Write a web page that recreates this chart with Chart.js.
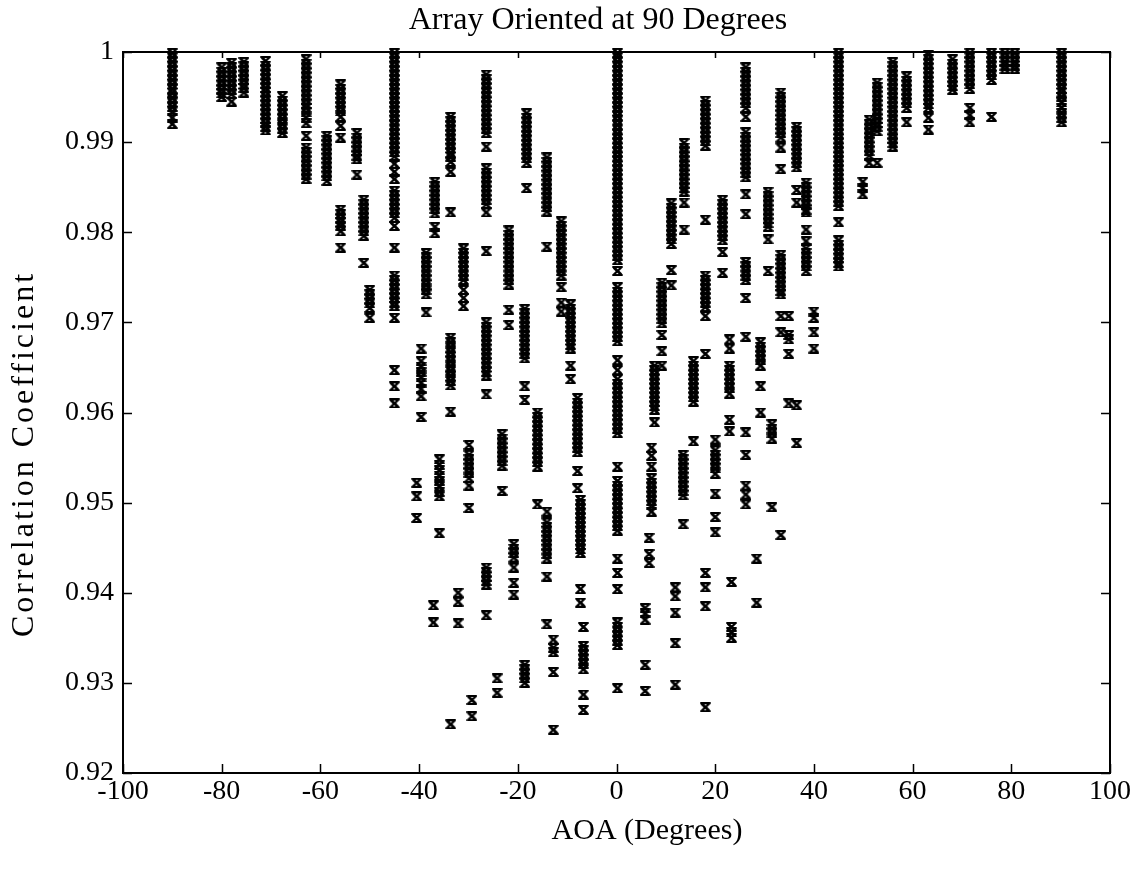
<!DOCTYPE html>
<html>
<head>
<meta charset="utf-8">
<title>Array Oriented at 90 Degrees</title>
<script src="https://cdn.jsdelivr.net/npm/chart.js@4.4.1/dist/chart.umd.min.js"></script>
<style>
  html, body { margin: 0; padding: 0; background: #fff; }
  canvas { display: block; }
</style>
</head>
<body>
<canvas id="chart" width="1143" height="880"></canvas>
<script>
// Axis ticks
const xTickValues = [-100, -80, -60, -40, -20, 0, 20, 40, 60, 80, 100];
const xTickLabels = ['-100', '-80', '-60', '-40', '-20', '0', '20', '40', '60', '80', '100'];
const yTickValues = [0.92, 0.93, 0.94, 0.95, 0.96, 0.97, 0.98, 0.99, 1];
const yTickLabels = ['0.92', '0.93', '0.94', '0.95', '0.96', '0.97', '0.98', '0.99', '1'];

// Correlation coefficients per angle of arrival (degrees), negative angles
const aoaLeft = [-90, -80, -78, -75.5, -71.1, -67.7, -62.9, -58.7, -55.9, -52.6, -51.2, -50.0,
  -45.0, -40.5, -39.6, -38.6, -37.1, -36.8, -35.9, -33.6, -32.1, -31.0, -29.9, -29.3,
  -26.4, -24.2, -23.2, -21.8, -20.8, -18.6, -18.2, -16.0, -14.1, -12.8, -11.2, -9.3,
  -7.9, -7.3, -6.7];
const rhoLeft = [
  [0.9999,0.9994,0.9989,0.9984,0.9979,0.9974,0.9969,0.9964,0.9959,0.9955,0.9949,0.9944,0.9939,0.9934,0.9927,0.9920],
  [0.9983,0.9978,0.9973,0.9968,0.9963,0.9958,0.9954,0.9950],
  [0.9988,0.9983,0.9978,0.9973,0.9968,0.9963,0.9958,0.9953,0.9945],
  [0.9989,0.9984,0.9979,0.9974,0.9969,0.9964,0.9960,0.9955],
  [0.9990,0.9985,0.9980,0.9975,0.9970,0.9965,0.9960,0.9956,0.9951,0.9946,0.9941,0.9936,0.9931,0.9926,0.9921,0.9917,0.9913],
  [0.9951,0.9946,0.9941,0.9936,0.9931,0.9926,0.9920,0.9915,0.9910],
  [0.9992,0.9987,0.9982,0.9977,0.9972,0.9967,0.9962,0.9957,0.9952,0.9947,0.9942,0.9938,0.9933,0.9927,0.9921,0.9907,0.9894,0.9889,0.9884,0.9879,0.9874,0.9869,0.9864,0.9859],
  [0.9907,0.9902,0.9897,0.9892,0.9887,0.9882,0.9877,0.9872,0.9867,0.9862,0.9857],
  [0.9964,0.9959,0.9954,0.9949,0.9944,0.9939,0.9934,0.9928,0.9918,0.9905,0.9825,0.9820,0.9815,0.9811,0.9807,0.9801,0.9783],
  [0.9910,0.9905,0.9900,0.9895,0.9890,0.9885,0.9881,0.9864],
  [0.9836,0.9831,0.9826,0.9821,0.9816,0.9811,0.9806,0.9801,0.9796,0.9766],
  [0.9736,0.9731,0.9726,0.9721,0.9716,0.9705],
  [0.9999,0.9994,0.9989,0.9984,0.9979,0.9974,0.9969,0.9964,0.9959,0.9954,0.9949,0.9944,0.9939,0.9934,0.9929,0.9924,0.9919,0.9914,0.9909,0.9904,0.9899,0.9894,0.9889,0.9884,0.9876,0.9867,0.9859,0.9846,0.9841,0.9836,0.9831,0.9826,0.9821,0.9816,0.9807,0.9783,0.9752,0.9747,0.9742,0.9737,0.9732,0.9727,0.9722,0.9718,0.9705,0.9647,0.9629,0.9610],
  [0.9522,0.9507,0.9483],
  [0.9671,0.9657,0.9651,0.9645,0.9639,0.9633,0.9626,0.9618,0.9595],
  [0.9777,0.9772,0.9767,0.9762,0.9757,0.9752,0.9747,0.9742,0.9736,0.9731,0.9711],
  [0.9386,0.9367],
  [0.9856,0.9851,0.9846,0.9841,0.9836,0.9831,0.9826,0.9821,0.9806,0.9799],
  [0.9548,0.9542,0.9536,0.9530,0.9524,0.9518,0.9512,0.9507,0.9466],
  [0.9928,0.9923,0.9918,0.9913,0.9908,0.9903,0.9898,0.9893,0.9888,0.9884,0.9878,0.9867,0.9822,0.9683,0.9678,0.9672,0.9667,0.9662,0.9657,0.9651,0.9646,0.9640,0.9635,0.9630,0.9601,0.9254],
  [0.9400,0.9390,0.9366],
  [0.9782,0.9777,0.9772,0.9767,0.9762,0.9757,0.9752,0.9747,0.9736,0.9727,0.9718],
  [0.9564,0.9553,0.9548,0.9543,0.9538,0.9533,0.9527,0.9519,0.9494],
  [0.9281,0.9263],
  [0.9975,0.9970,0.9965,0.9960,0.9955,0.9950,0.9945,0.9940,0.9935,0.9930,0.9925,0.9920,0.9915,0.9910,0.9895,0.9871,0.9866,0.9861,0.9856,0.9851,0.9846,0.9841,0.9836,0.9831,0.9822,0.9779,0.9700,0.9695,0.9690,0.9685,0.9680,0.9675,0.9670,0.9665,0.9660,0.9655,0.9650,0.9645,0.9641,0.9620,0.9428,0.9423,0.9418,0.9413,0.9409,0.9375],
  [0.9305,0.9289],
  [0.9576,0.9571,0.9566,0.9561,0.9556,0.9551,0.9546,0.9541,0.9513],
  [0.9802,0.9797,0.9792,0.9787,0.9782,0.9777,0.9772,0.9767,0.9762,0.9757,0.9752,0.9747,0.9742,0.9714,0.9697],
  [0.9454,0.9449,0.9444,0.9439,0.9428,0.9411,0.9398],
  [0.9715,0.9710,0.9705,0.9700,0.9695,0.9690,0.9685,0.9680,0.9675,0.9670,0.9665,0.9660,0.9629,0.9614,0.9320,0.9315,0.9310,0.9305,0.9300],
  [0.9932,0.9927,0.9922,0.9917,0.9912,0.9907,0.9902,0.9897,0.9892,0.9887,0.9882,0.9877,0.9849],
  [0.9600,0.9595,0.9590,0.9585,0.9580,0.9575,0.9570,0.9565,0.9560,0.9555,0.9550,0.9545,0.9540,0.9498],
  [0.9883,0.9878,0.9873,0.9868,0.9863,0.9858,0.9853,0.9848,0.9843,0.9838,0.9833,0.9828,0.9823,0.9784,0.9490,0.9478,0.9473,0.9468,0.9463,0.9458,0.9453,0.9448,0.9443,0.9438,0.9418,0.9365],
  [0.9348,0.9339,0.9334,0.9312,0.9248],
  [0.9812,0.9807,0.9802,0.9797,0.9792,0.9787,0.9782,0.9777,0.9772,0.9767,0.9762,0.9757,0.9752,0.9739,0.9722,0.9712],
  [0.9720,0.9715,0.9710,0.9705,0.9700,0.9695,0.9690,0.9685,0.9680,0.9675,0.9671,0.9652,0.9637],
  [0.9616,0.9611,0.9606,0.9601,0.9596,0.9591,0.9586,0.9581,0.9576,0.9571,0.9566,0.9561,0.9556,0.9535,0.9516],
  [0.9503,0.9498,0.9493,0.9488,0.9483,0.9478,0.9473,0.9468,0.9463,0.9458,0.9453,0.9448,0.9444,0.9404,0.9389],
  [0.9362,0.9341,0.9336,0.9331,0.9326,0.9321,0.9315,0.9287,0.9270]
];

// Broadside column
const aoaCenter = [0.2];
const rhoCenter = [
  [0.9999,0.9994,0.9989,0.9984,0.9979,0.9974,0.9969,0.9964,0.9959,0.9954,0.9949,0.9944,0.9939,0.9934,0.9929,0.9924,0.9919,0.9914,0.9909,0.9904,0.9899,0.9894,0.9889,0.9884,0.9879,0.9874,0.9869,0.9864,0.9859,0.9854,0.9849,0.9844,0.9839,0.9834,0.9829,0.9824,0.9819,0.9814,0.9809,0.9804,0.9799,0.9794,0.9789,0.9784,0.9779,0.9774,0.9769,0.9757,0.9739,0.9734,0.9729,0.9724,0.9719,0.9714,0.9709,0.9704,0.9699,0.9694,0.9689,0.9684,0.9679,0.9658,0.9647,0.9637,0.9632,0.9627,0.9622,0.9617,0.9612,0.9607,0.9602,0.9597,0.9592,0.9587,0.9582,0.9577,0.9540,0.9524,0.9519,0.9514,0.9509,0.9504,0.9499,0.9494,0.9489,0.9484,0.9479,0.9474,0.9469,0.9438,0.9422,0.9404,0.9367,0.9362,0.9357,0.9352,0.9347,0.9342,0.9294]
];

// Positive angles
const aoaRight = [5.8, 7.7, 7.1, 6.6, 9.2, 11.1, 11.9, 13.5, 13.7, 15.6, 18.0, 20.0, 21.5, 22.9,
  23.3, 26.2, 28.4, 29.2, 30.7, 31.5, 33.3, 34.9, 36.5, 38.4, 40.0, 45.0, 49.9, 51.2, 52.8,
  56.0, 58.8, 63.2, 68.1, 71.6, 76.0, 78.7, 80.7, 90.2];
const rhoRight = [
  [0.9383,0.9377,0.9370,0.9320,0.9291],
  [0.9652,0.9647,0.9642,0.9637,0.9632,0.9627,0.9622,0.9617,0.9612,0.9607,0.9603,0.9589],
  [0.9561,0.9552,0.9540,0.9527,0.9522,0.9517,0.9512,0.9507,0.9502,0.9497,0.9490],
  [0.9461,0.9443,0.9433],
  [0.9744,0.9739,0.9734,0.9729,0.9724,0.9719,0.9714,0.9709,0.9704,0.9699,0.9686,0.9668,0.9652],
  [0.9832,0.9827,0.9822,0.9817,0.9812,0.9807,0.9802,0.9797,0.9792,0.9787,0.9758,0.9741],
  [0.9406,0.9396,0.9378,0.9344,0.9298],
  [0.9553,0.9548,0.9543,0.9538,0.9533,0.9528,0.9523,0.9518,0.9513,0.9508,0.9476],
  [0.9899,0.9894,0.9889,0.9884,0.9879,0.9874,0.9869,0.9864,0.9859,0.9854,0.9849,0.9845,0.9833,0.9803],
  [0.9657,0.9652,0.9647,0.9642,0.9637,0.9632,0.9627,0.9622,0.9617,0.9612,0.9568],
  [0.9946,0.9941,0.9936,0.9931,0.9926,0.9921,0.9916,0.9911,0.9906,0.9901,0.9896,0.9814,0.9752,0.9747,0.9742,0.9737,0.9732,0.9727,0.9722,0.9717,0.9707,0.9665,0.9422,0.9406,0.9385,0.9273],
  [0.9570,0.9558,0.9553,0.9548,0.9543,0.9538,0.9532,0.9510,0.9484,0.9467],
  [0.9836,0.9831,0.9826,0.9821,0.9816,0.9811,0.9806,0.9801,0.9796,0.9791,0.9778,0.9755],
  [0.9681,0.9671,0.9652,0.9647,0.9642,0.9637,0.9632,0.9627,0.9621,0.9592,0.9579],
  [0.9412,0.9362,0.9356,0.9350],
  [0.9983,0.9978,0.9973,0.9968,0.9963,0.9958,0.9953,0.9948,0.9943,0.9938,0.9928,0.9911,0.9906,0.9901,0.9896,0.9891,0.9886,0.9881,0.9876,0.9871,0.9866,0.9861,0.9842,0.9820,0.9767,0.9762,0.9757,0.9752,0.9747,0.9727,0.9684,0.9578,0.9553,0.9519,0.9509,0.9498],
  [0.9438,0.9389],
  [0.9678,0.9673,0.9668,0.9663,0.9658,0.9652,0.9629,0.9600],
  [0.9845,0.9840,0.9835,0.9830,0.9825,0.9820,0.9815,0.9810,0.9806,0.9792,0.9757],
  [0.9587,0.9582,0.9577,0.9571,0.9495],
  [0.9955,0.9950,0.9945,0.9940,0.9935,0.9930,0.9925,0.9920,0.9915,0.9910,0.9905,0.9894,0.9870,0.9775,0.9770,0.9765,0.9760,0.9755,0.9750,0.9745,0.9740,0.9735,0.9731,0.9707,0.9689,0.9464],
  [0.9707,0.9686,0.9681,0.9665,0.9610],
  [0.9917,0.9912,0.9907,0.9902,0.9897,0.9892,0.9887,0.9882,0.9877,0.9872,0.9847,0.9833,0.9608,0.9566],
  [0.9855,0.9850,0.9845,0.9840,0.9835,0.9830,0.9825,0.9822,0.9803,0.9790,0.9782,0.9777,0.9772,0.9767,0.9762,0.9757],
  [0.9712,0.9705,0.9689,0.9671],
  [0.9999,0.9994,0.9989,0.9984,0.9979,0.9974,0.9969,0.9964,0.9959,0.9954,0.9949,0.9944,0.9939,0.9934,0.9929,0.9924,0.9919,0.9914,0.9909,0.9904,0.9899,0.9894,0.9889,0.9884,0.9879,0.9874,0.9869,0.9864,0.9859,0.9854,0.9849,0.9844,0.9839,0.9834,0.9829,0.9811,0.9791,0.9786,0.9781,0.9776,0.9771,0.9766,0.9762],
  [0.9856,0.9849,0.9842],
  [0.9925,0.9920,0.9915,0.9910,0.9905,0.9900,0.9895,0.9890,0.9885,0.9877],
  [0.9966,0.9961,0.9956,0.9951,0.9946,0.9941,0.9936,0.9931,0.9926,0.9921,0.9917,0.9912,0.9877],
  [0.9989,0.9984,0.9979,0.9974,0.9969,0.9964,0.9959,0.9954,0.9949,0.9944,0.9939,0.9934,0.9929,0.9924,0.9919,0.9914,0.9909,0.9904,0.9899,0.9895],
  [0.9973,0.9968,0.9963,0.9958,0.9953,0.9948,0.9943,0.9938,0.9922],
  [0.9997,0.9992,0.9987,0.9982,0.9977,0.9972,0.9967,0.9962,0.9957,0.9952,0.9947,0.9942,0.9938,0.9927,0.9914],
  [0.9992,0.9987,0.9982,0.9977,0.9972,0.9967,0.9962,0.9958],
  [0.9999,0.9994,0.9989,0.9984,0.9979,0.9974,0.9969,0.9964,0.9959,0.9938,0.9930,0.9922],
  [0.9999,0.9994,0.9989,0.9984,0.9979,0.9974,0.9969,0.9928],
  [0.9999,0.9994,0.9989,0.9985,0.9981],
  [0.9999,0.9994,0.9989,0.9985,0.9981],
  [0.9999,0.9994,0.9989,0.9984,0.9979,0.9974,0.9969,0.9964,0.9959,0.9955,0.9950,0.9944,0.9938,0.9932,0.9927,0.9922]
];

// Flatten the columns into scatter points
function toPoints(angles, columns) {
  const pts = [];
  angles.forEach((a, i) => columns[i].forEach(r => pts.push({ x: a, y: r })));
  return pts;
}
const points = [].concat(
  toPoints(aoaLeft, rhoLeft),
  toPoints(aoaCenter, rhoCenter),
  toPoints(aoaRight, rhoRight)
);

// Bold serif "x" marker used for every sample
function makeMarker() {
  const g = document.createElement('canvas');
  g.width = 11; g.height = 10;
  const c = g.getContext('2d');
  c.strokeStyle = '#000';
  c.lineWidth = 2.9;
  c.beginPath(); c.moveTo(1.8, 1.5); c.lineTo(9.2, 8.5); c.stroke();
  c.lineWidth = 2.3;
  c.beginPath(); c.moveTo(9.2, 1.5); c.lineTo(1.8, 8.5); c.stroke();
  c.lineWidth = 2;
  c.beginPath();
  c.moveTo(0.3, 1.1); c.lineTo(10.7, 1.1);
  c.moveTo(0.3, 8.9); c.lineTo(10.7, 8.9);
  c.stroke();
  return g;
}

const FONT = '"Liberation Serif", "Times New Roman", serif';

// Box frame with inward ticks on all four sides, plus titles
const framePlugin = {
  id: 'frame',
  beforeDatasetsDraw(chart) {
    const { ctx, chartArea: { left, right, top, bottom }, scales: { x, y } } = chart;
    ctx.save();
    ctx.strokeStyle = '#000';
    ctx.lineWidth = 2;
    ctx.strokeRect(left, top, right - left, bottom - top);
    ctx.lineWidth = 1.5;
    ctx.beginPath();
    xTickValues.forEach(v => {
      const px = Math.round(x.getPixelForValue(v)) + 0.5;
      ctx.moveTo(px, bottom); ctx.lineTo(px, bottom - 9);
      ctx.moveTo(px, top); ctx.lineTo(px, top + 6);
    });
    yTickValues.forEach(v => {
      const py = Math.round(y.getPixelForValue(v)) + 0.5;
      ctx.moveTo(left, py); ctx.lineTo(left + 9, py);
      ctx.moveTo(right, py); ctx.lineTo(right - 9, py);
    });
    ctx.stroke();
    ctx.restore();
  },
  afterDraw(chart) {
    const { ctx } = chart;
    ctx.save();
    ctx.fillStyle = '#000';
    ctx.textAlign = 'center';
    ctx.textBaseline = 'middle';
    ctx.font = '32px ' + FONT;
    ctx.fillText('Array Oriented at 90 Degrees', 598, 21);
    ctx.font = '30px ' + FONT;
    ctx.fillText('AOA (Degrees)', 647, 831);
    ctx.translate(25, 454);
    ctx.rotate(-Math.PI / 2);
    ctx.font = '32px ' + FONT;
    ctx.letterSpacing = '3px';
    ctx.fillText('Correlation Coefficient', 0, 0);
    ctx.restore();
  }
};

new Chart(document.getElementById('chart'), {
  type: 'scatter',
  data: {
    datasets: [{
      data: points,
      pointStyle: makeMarker(),
      pointRadius: 5,
      backgroundColor: '#000',
      borderColor: '#000',
      clip: false
    }]
  },
  options: {
    responsive: false,
    animation: false,
    devicePixelRatio: 1,
    events: [],
    layout: { padding: { top: 52, right: 33, bottom: 0, left: 0 } },
    plugins: {
      legend: { display: false },
      title: { display: false },
      tooltip: { enabled: false }
    },
    scales: {
      x: {
        type: 'linear',
        min: -100,
        max: 100,
        grid: { display: false, drawTicks: false },
        border: { display: false },
        afterBuildTicks: s => { s.ticks = xTickValues.map(v => ({ value: v })); },
        afterFit: s => { s.height = 107; },
        ticks: {
          color: '#000',
          font: { family: FONT, size: 28 },
          padding: 2,
          maxRotation: 0,
          autoSkip: false,
          callback: (v, i) => xTickLabels[i]
        }
      },
      y: {
        type: 'linear',
        min: 0.92,
        max: 1,
        grid: { display: false, drawTicks: false },
        border: { display: false },
        afterBuildTicks: s => { s.ticks = yTickValues.map(v => ({ value: v })); },
        afterFit: s => { s.width = 123; },
        ticks: {
          color: '#000',
          font: { family: FONT, size: 28 },
          padding: 9,
          autoSkip: false,
          callback: (v, i) => yTickLabels[i]
        }
      }
    }
  },
  plugins: [framePlugin]
});
</script>
</body>
</html>
